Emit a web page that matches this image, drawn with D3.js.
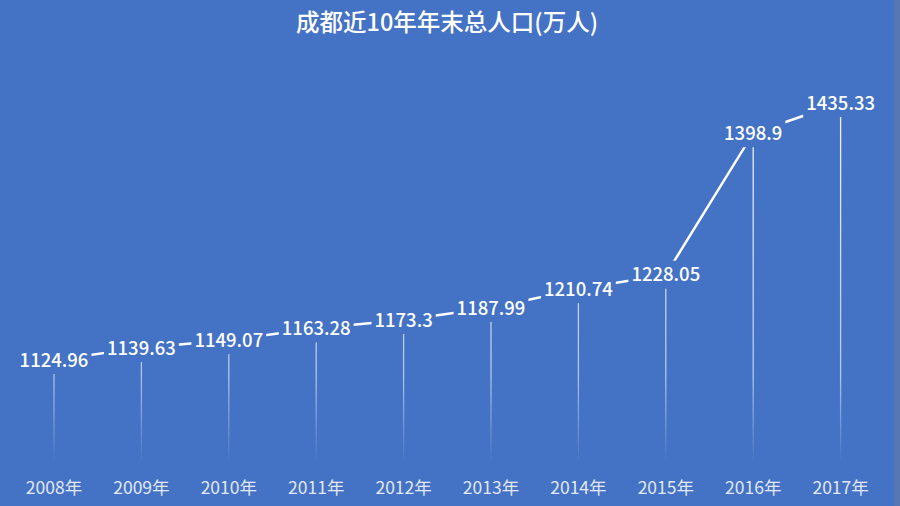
<!DOCTYPE html>
<html><head><meta charset="utf-8">
<script src="https://cdn.jsdelivr.net/npm/d3@7/dist/d3.min.js"></script>
<style>
html,body{margin:0;padding:0;background:#4472C4;}
svg{display:block;}
</style></head>
<body>
<svg id="chart" width="900" height="506"></svg>
<script>
const title = "成都近10年年末总人口(万人)";
const years = ["2008年","2009年","2010年","2011年","2012年","2013年","2014年","2015年","2016年","2017年"];
const population = [1124.96,1139.63,1149.07,1163.28,1173.3,1187.99,1210.74,1228.05,1398.9,1435.33];
const labels = ["1124.96","1139.63","1149.07","1163.28","1173.3","1187.99","1210.74","1228.05","1398.9","1435.33"];
const yDomain = [1000, 1500];

const W = 900, H = 506, BG = "#4472C4";
const svg = d3.select("#chart");
svg.append("rect").attr("width", W).attr("height", H).attr("fill", BG);
svg.append("rect").attr("x", 894).attr("y", 0).attr("width", 6).attr("height", H).attr("fill", "#5676b4");

const x = d3.scaleBand().domain(years).range([10.3, 884.3]).padding(0);
const y = d3.scaleLinear().domain(yDomain).range([463.5, 49.5]);
const cx = d => x(d) + x.bandwidth() / 2;

const defs = svg.append("defs");
const grad = defs.append("linearGradient").attr("id", "fade")
  .attr("gradientUnits", "userSpaceOnUse").attr("x1", 0).attr("x2", 0)
  .attr("y1", 100).attr("y2", y(yDomain[0]));
grad.append("stop").attr("offset", "0%").attr("stop-color", "#fff").attr("stop-opacity", 0.95);
grad.append("stop").attr("offset", "75%").attr("stop-color", "#fff").attr("stop-opacity", 0.6);
grad.append("stop").attr("offset", "100%").attr("stop-color", "#fff").attr("stop-opacity", 0);

// title
svg.append("text").attr("x", 447).attr("y", 31).attr("text-anchor", "middle")
  .attr("font-family", "'Noto Sans CJK SC', sans-serif").attr("font-size", 23.5)
  .attr("font-weight", 500).attr("fill", "#fff").text(title);

// drop lines
svg.append("g").selectAll("line").data(years).join("line")
  .attr("x1", d => cx(d)).attr("x2", d => cx(d))
  .attr("y1", (d, i) => y(population[i])).attr("y2", y(yDomain[0]))
  .attr("stroke", "url(#fade)").attr("stroke-width", 1.3);

// line
const line = d3.line().x((d, i) => cx(years[i])).y(d => y(d));
svg.append("path").datum(population).attr("d", line)
  .attr("fill", "none").attr("stroke", "#fff").attr("stroke-width", 2.5);

// data labels
const lg = svg.append("g").selectAll("g").data(population).join("g")
  .attr("transform", (d, i) => `translate(${cx(years[i])},${y(d)})`);
lg.append("rect");
lg.append("text").attr("text-anchor", "middle").attr("dy", "0.36em")
  .attr("font-family", "'Noto Sans CJK SC', sans-serif").attr("font-size", 18.5)
  .attr("font-weight", 500).attr("fill", "#fff").text((d, i) => labels[i]);
lg.each(function() {
  const t = d3.select(this).select("text").node().getBBox();
  d3.select(this).select("rect").attr("x", t.x - 3).attr("width", t.width + 6)
    .attr("y", -14).attr("height", 28).attr("fill", BG);
});

// x axis labels
const xAxis = d3.axisBottom(x).tickSize(0).tickPadding(0);
const ax = svg.append("g").attr("transform", "translate(0,478)").call(xAxis);
ax.select(".domain").remove();
ax.selectAll("text").attr("font-family", "'Noto Sans CJK SC', sans-serif")
  .attr("font-size", 17.5).attr("fill", "#e2e8f4").attr("dy", "0.9em");
</script>
</body></html>
